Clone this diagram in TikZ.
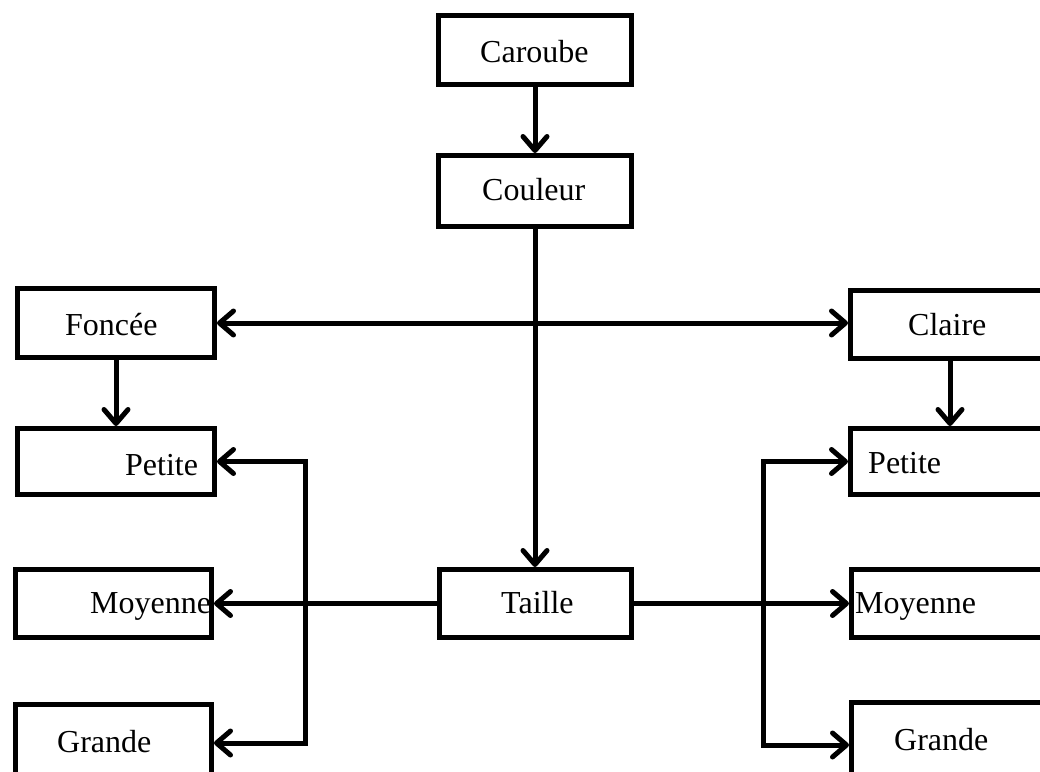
\documentclass[tikz,border=0pt]{standalone}
\usepackage{fontspec}
\setmainfont{Liberation Serif}
\usetikzlibrary{arrows.meta}
\begin{document}
\begin{tikzpicture}[x=1pt,y=-1pt,
  box/.style={draw=black,line width=5pt,rectangle,inner sep=0pt},
  lbl/.style={anchor=base west,inner sep=0pt,font=\fontsize{32}{38}\selectfont},
  conn/.style={line width=5pt,arrows={-{Straight Barb[length=14pt,width=24pt,round]}}},
  conn2/.style={line width=5pt,arrows={{Straight Barb[length=14pt,width=24pt,round]}-{Straight Barb[length=14pt,width=24pt,round]}}}]
\useasboundingbox (0,0) rectangle (1040,771);
\clip (0,0) rectangle (1040,771);
\fill[white] (0,0) rectangle (1040,771);
% boxes
\node[box,minimum width=193pt,minimum height=69pt] (caroube) at (535,50) {};
\node[box,minimum width=193pt,minimum height=71pt] (couleur) at (535,191) {};
\node[box,minimum width=197pt,minimum height=69pt] (foncee) at (116,323) {};
\node[box,minimum width=197pt,minimum height=66pt] (petiteL) at (116,461.5) {};
\node[box,minimum width=196pt,minimum height=68pt] (moyenneL) at (113.5,603.5) {};
\node[box,minimum width=196pt,minimum height=135pt] (grandeL) at (113.5,772) {};
\node[box,minimum width=227pt,minimum height=68pt] (claire) at (964,324) {};
\node[box,minimum width=227pt,minimum height=66pt] (petiteR) at (964,461.5) {};
\node[box,minimum width=226pt,minimum height=68pt] (moyenneR) at (964.5,603.5) {};
\node[box,minimum width=226pt,minimum height=137pt] (grandeR) at (964.5,771) {};
\node[box,minimum width=192pt,minimum height=68pt] (taille) at (535,603.5) {};
% labels
\node[lbl] (tCaroube) at (480,62) {Caroube};
\node[lbl] (tCouleur) at (482,200) {Couleur};
\node[lbl] (tFoncee) at (65,335) {Foncée};
\node[lbl] (tPetiteL) at (125,475) {Petite};
\node[lbl] (tMoyenneL) at (90,613) {Moyenne};
\node[lbl] (tGrandeL) at (57,752) {Grande};
\node[lbl] (tClaire) at (908,335) {Claire};
\node[lbl] (tPetiteR) at (868,473) {Petite};
\node[lbl] (tTaille) at (501,613) {Taille};
\node[lbl] (tMoyenneR) at (855,613) {Moyenne};
\node[lbl] (tGrandeR) at (894,750) {Grande};
% coordinates
\coordinate (gL) at (305,743);
\coordinate (gR) at (763,745);
% connectors
\draw[conn] (caroube.south) -- (couleur.north);
\draw[conn] (couleur.south) -- (taille.north);
\draw[conn2] (foncee.east) -- (foncee.east -| claire.west);
\draw[conn] (foncee.south) -- (petiteL.north);
\draw[conn] ([xshift=-14pt]claire.south) -- ([xshift=-14pt]petiteR.north);
\draw[conn] (taille.west) -- (moyenneL.east);
\draw[conn] (taille.east) -- (moyenneR.west);
\draw[conn2] (petiteL.east) -| (gL) -- (gL -| grandeL.east);
\draw[conn2] (petiteR.west) -| (gR) -- (gR -| grandeR.west);
\end{tikzpicture}
\end{document}
